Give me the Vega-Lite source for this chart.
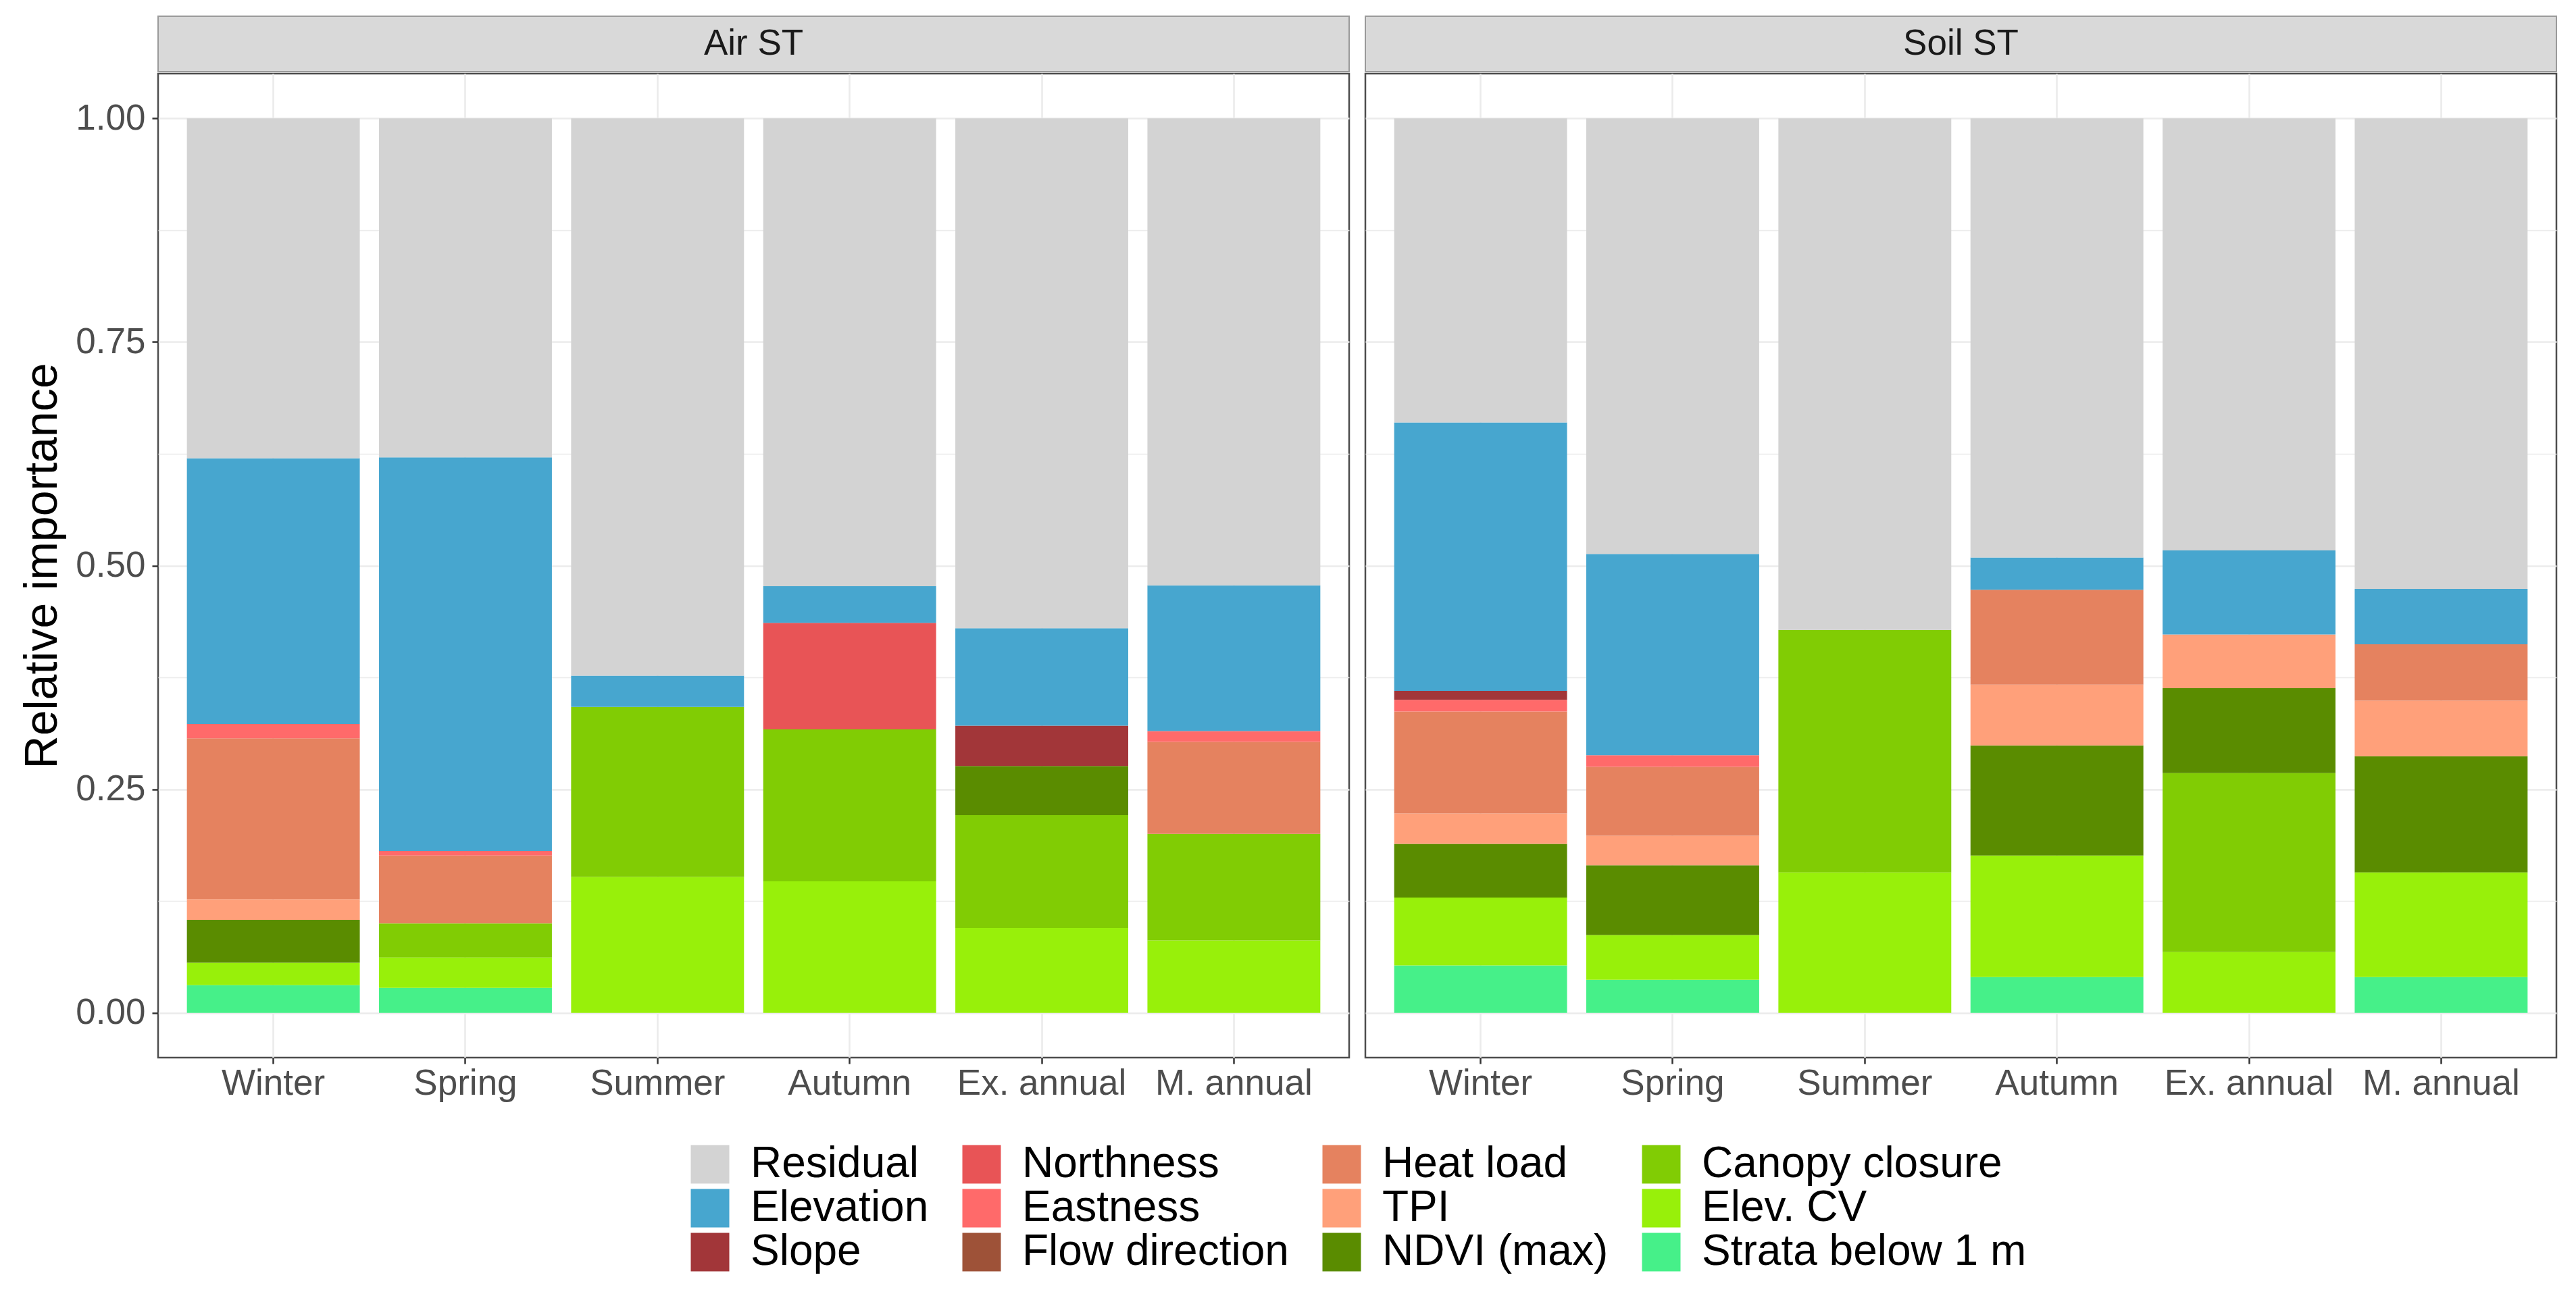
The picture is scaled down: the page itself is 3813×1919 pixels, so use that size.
{
  "$schema": "https://vega.github.io/schema/vega-lite/v6.json",
  "padding": {"left": 28, "top": 23, "right": 40, "bottom": 20},
  "background": "white",
  "datasets": {
    "imp": [
      {"panel": "Air ST", "season": "Winter", "variable": "Strata below 1 m", "value": 0.031},
      {"panel": "Air ST", "season": "Winter", "variable": "Elev. CV", "value": 0.025},
      {"panel": "Air ST", "season": "Winter", "variable": "NDVI (max)", "value": 0.048},
      {"panel": "Air ST", "season": "Winter", "variable": "TPI", "value": 0.023},
      {"panel": "Air ST", "season": "Winter", "variable": "Heat load", "value": 0.180},
      {"panel": "Air ST", "season": "Winter", "variable": "Eastness", "value": 0.016},
      {"panel": "Air ST", "season": "Winter", "variable": "Elevation", "value": 0.297},
      {"panel": "Air ST", "season": "Winter", "variable": "Residual", "value": 0.380},
      {"panel": "Air ST", "season": "Spring", "variable": "Strata below 1 m", "value": 0.028},
      {"panel": "Air ST", "season": "Spring", "variable": "Elev. CV", "value": 0.034},
      {"panel": "Air ST", "season": "Spring", "variable": "Canopy closure", "value": 0.038},
      {"panel": "Air ST", "season": "Spring", "variable": "Heat load", "value": 0.076},
      {"panel": "Air ST", "season": "Spring", "variable": "Eastness", "value": 0.005},
      {"panel": "Air ST", "season": "Spring", "variable": "Elevation", "value": 0.440},
      {"panel": "Air ST", "season": "Spring", "variable": "Residual", "value": 0.379},
      {"panel": "Air ST", "season": "Summer", "variable": "Elev. CV", "value": 0.152},
      {"panel": "Air ST", "season": "Summer", "variable": "Canopy closure", "value": 0.190},
      {"panel": "Air ST", "season": "Summer", "variable": "Elevation", "value": 0.035},
      {"panel": "Air ST", "season": "Summer", "variable": "Residual", "value": 0.623},
      {"panel": "Air ST", "season": "Autumn", "variable": "Elev. CV", "value": 0.147},
      {"panel": "Air ST", "season": "Autumn", "variable": "Canopy closure", "value": 0.170},
      {"panel": "Air ST", "season": "Autumn", "variable": "Northness", "value": 0.119},
      {"panel": "Air ST", "season": "Autumn", "variable": "Elevation", "value": 0.041},
      {"panel": "Air ST", "season": "Autumn", "variable": "Residual", "value": 0.523},
      {"panel": "Air ST", "season": "Ex. annual", "variable": "Elev. CV", "value": 0.095},
      {"panel": "Air ST", "season": "Ex. annual", "variable": "Canopy closure", "value": 0.126},
      {"panel": "Air ST", "season": "Ex. annual", "variable": "NDVI (max)", "value": 0.055},
      {"panel": "Air ST", "season": "Ex. annual", "variable": "Slope", "value": 0.045},
      {"panel": "Air ST", "season": "Ex. annual", "variable": "Elevation", "value": 0.109},
      {"panel": "Air ST", "season": "Ex. annual", "variable": "Residual", "value": 0.570},
      {"panel": "Air ST", "season": "M. annual", "variable": "Elev. CV", "value": 0.081},
      {"panel": "Air ST", "season": "M. annual", "variable": "Canopy closure", "value": 0.119},
      {"panel": "Air ST", "season": "M. annual", "variable": "Heat load", "value": 0.103},
      {"panel": "Air ST", "season": "M. annual", "variable": "Eastness", "value": 0.012},
      {"panel": "Air ST", "season": "M. annual", "variable": "Elevation", "value": 0.163},
      {"panel": "Air ST", "season": "M. annual", "variable": "Residual", "value": 0.522},
      {"panel": "Soil ST", "season": "Winter", "variable": "Strata below 1 m", "value": 0.053},
      {"panel": "Soil ST", "season": "Winter", "variable": "Elev. CV", "value": 0.076},
      {"panel": "Soil ST", "season": "Winter", "variable": "NDVI (max)", "value": 0.060},
      {"panel": "Soil ST", "season": "Winter", "variable": "TPI", "value": 0.034},
      {"panel": "Soil ST", "season": "Winter", "variable": "Heat load", "value": 0.114},
      {"panel": "Soil ST", "season": "Winter", "variable": "Eastness", "value": 0.013},
      {"panel": "Soil ST", "season": "Winter", "variable": "Slope", "value": 0.010},
      {"panel": "Soil ST", "season": "Winter", "variable": "Elevation", "value": 0.300},
      {"panel": "Soil ST", "season": "Winter", "variable": "Residual", "value": 0.340},
      {"panel": "Soil ST", "season": "Spring", "variable": "Strata below 1 m", "value": 0.037},
      {"panel": "Soil ST", "season": "Spring", "variable": "Elev. CV", "value": 0.050},
      {"panel": "Soil ST", "season": "Spring", "variable": "NDVI (max)", "value": 0.078},
      {"panel": "Soil ST", "season": "Spring", "variable": "TPI", "value": 0.033},
      {"panel": "Soil ST", "season": "Spring", "variable": "Heat load", "value": 0.077},
      {"panel": "Soil ST", "season": "Spring", "variable": "Eastness", "value": 0.013},
      {"panel": "Soil ST", "season": "Spring", "variable": "Elevation", "value": 0.225},
      {"panel": "Soil ST", "season": "Spring", "variable": "Residual", "value": 0.487},
      {"panel": "Soil ST", "season": "Summer", "variable": "Elev. CV", "value": 0.157},
      {"panel": "Soil ST", "season": "Summer", "variable": "Canopy closure", "value": 0.271},
      {"panel": "Soil ST", "season": "Summer", "variable": "Residual", "value": 0.572},
      {"panel": "Soil ST", "season": "Autumn", "variable": "Strata below 1 m", "value": 0.040},
      {"panel": "Soil ST", "season": "Autumn", "variable": "Elev. CV", "value": 0.136},
      {"panel": "Soil ST", "season": "Autumn", "variable": "NDVI (max)", "value": 0.123},
      {"panel": "Soil ST", "season": "Autumn", "variable": "TPI", "value": 0.068},
      {"panel": "Soil ST", "season": "Autumn", "variable": "Heat load", "value": 0.106},
      {"panel": "Soil ST", "season": "Autumn", "variable": "Elevation", "value": 0.036},
      {"panel": "Soil ST", "season": "Autumn", "variable": "Residual", "value": 0.491},
      {"panel": "Soil ST", "season": "Ex. annual", "variable": "Elev. CV", "value": 0.068},
      {"panel": "Soil ST", "season": "Ex. annual", "variable": "Canopy closure", "value": 0.200},
      {"panel": "Soil ST", "season": "Ex. annual", "variable": "NDVI (max)", "value": 0.095},
      {"panel": "Soil ST", "season": "Ex. annual", "variable": "TPI", "value": 0.060},
      {"panel": "Soil ST", "season": "Ex. annual", "variable": "Elevation", "value": 0.094},
      {"panel": "Soil ST", "season": "Ex. annual", "variable": "Residual", "value": 0.483},
      {"panel": "Soil ST", "season": "M. annual", "variable": "Strata below 1 m", "value": 0.040},
      {"panel": "Soil ST", "season": "M. annual", "variable": "Elev. CV", "value": 0.117},
      {"panel": "Soil ST", "season": "M. annual", "variable": "NDVI (max)", "value": 0.130},
      {"panel": "Soil ST", "season": "M. annual", "variable": "TPI", "value": 0.062},
      {"panel": "Soil ST", "season": "M. annual", "variable": "Heat load", "value": 0.063},
      {"panel": "Soil ST", "season": "M. annual", "variable": "Elevation", "value": 0.062},
      {"panel": "Soil ST", "season": "M. annual", "variable": "Residual", "value": 0.526}
    ]
  },
  "data": {"name": "imp"},
  "resolve": {"scale": {"color": "shared"}, "legend": {"color": "shared"}},
  "spacing": 20,
  "hconcat": [
    {
      "spacing": 0,
      "vconcat": [
        {
          "width": 1763,
          "height": 82,
          "view": {"fill": "#D9D9D9", "stroke": "#9A9A9A", "strokeWidth": 2},
          "transform": [
            {"filter": "datum.panel === 'Air ST'"},
            {"aggregate": [{"op": "count", "as": "n"}], "groupby": ["panel"]}
          ],
          "mark": {"type": "text", "fontSize": 53, "color": "#1A1A1A", "align": "center", "baseline": "middle"},
          "encoding": {"text": {"field": "panel", "type": "nominal"}}
        },
        {
          "width": 1763,
          "height": 1457,
          "transform": [
            {"filter": "datum.panel === 'Air ST'"},
            {"calculate": "indexof(['Residual','Elevation','Slope','Northness','Eastness','Flow direction','Heat load','TPI','NDVI (max)','Canopy closure','Elev. CV','Strata below 1 m'], datum.variable)", "as": "k"}
          ],
          "mark": {"type": "bar"},
          "encoding": {
            "x": {
              "field": "season", "type": "nominal",
              "sort": ["Winter", "Spring", "Summer", "Autumn", "Ex. annual", "M. annual"],
              "scale": {"paddingInner": 0.1, "paddingOuter": 0.15},
              "axis": {"title": null, "labelAngle": 0, "labelFontSize": 53, "labelColor": "#4D4D4D", "labelPadding": 3, "labelLimit": 0,
                       "bandPosition": 0.5, "grid": true, "gridColor": "#EBEBEB", "gridWidth": 2.6,
                       "tickSize": 9, "tickWidth": 2.5, "tickColor": "#333333", "domain": false}
            },
            "y": {
              "field": "value", "type": "quantitative", "stack": "zero",
              "scale": {"domain": [-0.05, 1.05], "nice": false, "zero": false},
              "axis": {
                "title": "Relative importance", "titleFontSize": 68, "titleFontWeight": "normal", "titleColor": "#000000", "titlePadding": 14,
                "values": [0, 0.125, 0.25, 0.375, 0.5, 0.625, 0.75, 0.875, 1],
                "labelExpr": "(datum.value*4) % 1 === 0 ? format(datum.value, '.2f') : ''",
                "labelFontSize": 53, "labelColor": "#4D4D4D", "labelPadding": 10, "labelOverlap": false,
                "tickSize": 9, "tickWidth": 2.5, "tickColor": "#333333",
                "tickOpacity": {"condition": {"test": "(datum.value*4) % 1 !== 0", "value": 0}, "value": 1},
                "gridColor": "#EBEBEB",
                "gridWidth": {"condition": {"test": "(datum.value*4) % 1 !== 0", "value": 1.3}, "value": 2.6},
                "domain": false
              }
            },
            "color": {
              "field": "variable", "type": "nominal",
              "scale": {
                "domain": ["Residual", "Northness", "Heat load", "Canopy closure", "Elevation", "Eastness", "TPI", "Elev. CV", "Slope", "Flow direction", "NDVI (max)", "Strata below 1 m"],
                "range": ["#D3D3D3", "#E85456", "#E5825F", "#81CC04", "#47A6CF", "#FF6A6A", "#FFA07A", "#98F00A", "#A23639", "#9E5238", "#5A8C00", "#46F089"]
              },
              "legend": {
                "orient": "none", "legendX": 785, "legendY": 1668, "direction": "horizontal", "columns": 4,
                "title": null, "symbolType": "square", "symbolSize": 3249, "symbolStrokeWidth": 0,
                "labelFontSize": 64, "labelColor": "#000000", "labelOffset": 28, "columnPadding": 46,
                "rowPadding": 1, "padding": 0, "labelLimit": 0
              }
            },
            "order": {"field": "k", "type": "quantitative", "sort": "descending"}
          }
        }
      ]
    },
    {
      "spacing": 0,
      "vconcat": [
        {
          "width": 1763,
          "height": 82,
          "view": {"fill": "#D9D9D9", "stroke": "#9A9A9A", "strokeWidth": 2},
          "transform": [
            {"filter": "datum.panel === 'Soil ST'"},
            {"aggregate": [{"op": "count", "as": "n"}], "groupby": ["panel"]}
          ],
          "mark": {"type": "text", "fontSize": 53, "color": "#1A1A1A", "align": "center", "baseline": "middle"},
          "encoding": {"text": {"field": "panel", "type": "nominal"}}
        },
        {
          "width": 1763,
          "height": 1457,
          "transform": [
            {"filter": "datum.panel === 'Soil ST'"},
            {"calculate": "indexof(['Residual','Elevation','Slope','Northness','Eastness','Flow direction','Heat load','TPI','NDVI (max)','Canopy closure','Elev. CV','Strata below 1 m'], datum.variable)", "as": "k"}
          ],
          "mark": {"type": "bar"},
          "encoding": {
            "x": {
              "field": "season", "type": "nominal",
              "sort": ["Winter", "Spring", "Summer", "Autumn", "Ex. annual", "M. annual"],
              "scale": {"paddingInner": 0.1, "paddingOuter": 0.15},
              "axis": {"title": null, "labelAngle": 0, "labelFontSize": 53, "labelColor": "#4D4D4D", "labelPadding": 3, "labelLimit": 0,
                       "bandPosition": 0.5, "grid": true, "gridColor": "#EBEBEB", "gridWidth": 2.6,
                       "tickSize": 9, "tickWidth": 2.5, "tickColor": "#333333", "domain": false}
            },
            "y": {
              "field": "value", "type": "quantitative", "stack": "zero",
              "scale": {"domain": [-0.05, 1.05], "nice": false, "zero": false},
              "axis": {
                "title": null, "labels": false, "ticks": false, "domain": false,
                "values": [0, 0.125, 0.25, 0.375, 0.5, 0.625, 0.75, 0.875, 1],
                "gridColor": "#EBEBEB",
                "gridWidth": {"condition": {"test": "(datum.value*4) % 1 !== 0", "value": 1.3}, "value": 2.6}
              }
            },
            "color": {
              "field": "variable", "type": "nominal",
              "scale": {
                "domain": ["Residual", "Northness", "Heat load", "Canopy closure", "Elevation", "Eastness", "TPI", "Elev. CV", "Slope", "Flow direction", "NDVI (max)", "Strata below 1 m"],
                "range": ["#D3D3D3", "#E85456", "#E5825F", "#81CC04", "#47A6CF", "#FF6A6A", "#FFA07A", "#98F00A", "#A23639", "#9E5238", "#5A8C00", "#46F089"]
              }
            },
            "order": {"field": "k", "type": "quantitative", "sort": "descending"}
          }
        }
      ]
    }
  ],
  "config": {
    "font": "Liberation Sans",
    "view": {"stroke": "#4D4D4D", "strokeWidth": 2.5},
    "axis": {"labelFont": "Liberation Sans", "titleFont": "Liberation Sans"},
    "legend": {"labelFont": "Liberation Sans"}
  }
}
